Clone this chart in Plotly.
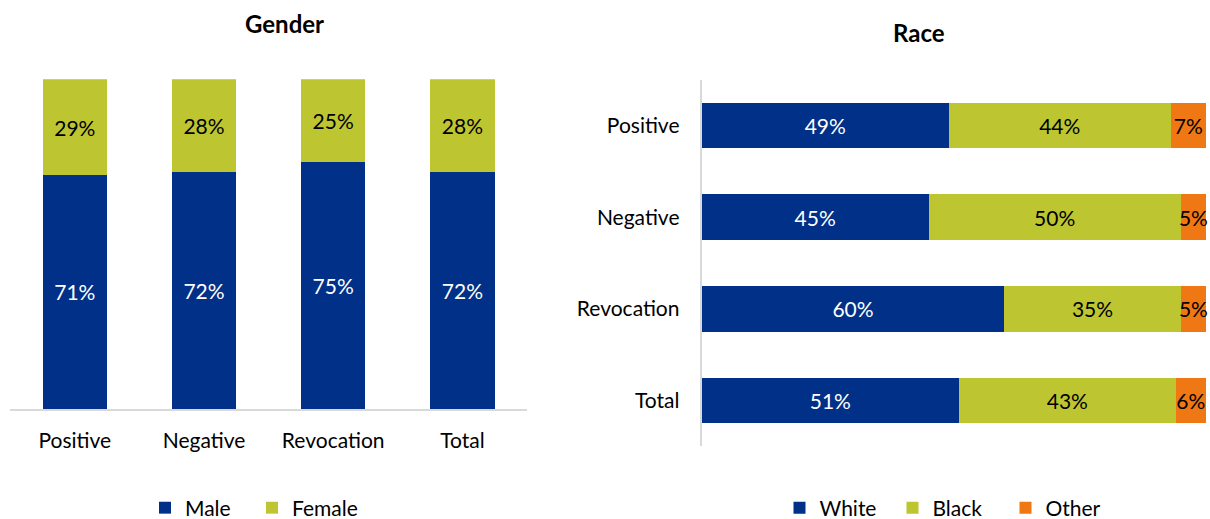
import plotly.graph_objects as go

W, H = 1210, 519

# ---- Data ----
gender_categories = ["Positive", "Negative", "Revocation", "Total"]
male_pct = [71, 72, 75, 72]
female_pct = [29, 28, 25, 28]

race_categories = ["Positive", "Negative", "Revocation", "Total"]
white_pct = [49, 45, 60, 51]
black_pct = [44, 50, 35, 43]
other_pct = [7, 5, 5, 6]

NAVY = "#003087"
LIME = "#BDC531"
ORANGE = "#F07814"
AXIS_GREY = "#D9D9D9"
FONT = "Lato"
FS = 21

def px_x(p):
    return p / W

def px_y(p):
    return 1 - p / H

fig = go.Figure()

def pct_text(vals):
    return [f"{v}%" for v in vals]

# ---- Gender (vertical stacked) ----
fig.add_trace(go.Bar(
    x=gender_categories, y=male_pct, name="Male", marker_color=NAVY,
    text=pct_text(male_pct), textposition="inside", insidetextanchor="middle",
    textangle=0, textfont=dict(color="white", size=FS, family=FONT), constraintext="none",
    xaxis="x", yaxis="y", legend="legend", marker_line_width=0,
))
fig.add_trace(go.Bar(
    x=gender_categories, y=female_pct, name="Female", marker_color=LIME,
    text=pct_text(female_pct), textposition="inside", insidetextanchor="middle",
    textangle=0, textfont=dict(color="black", size=FS, family=FONT), constraintext="none",
    xaxis="x", yaxis="y", legend="legend", marker_line_width=0,
))

# ---- Race (horizontal stacked) ----
for vals, name, col, tcol in [
    (white_pct, "White", NAVY, "white"),
    (black_pct, "Black", LIME, "black"),
    (other_pct, "Other", ORANGE, "black"),
]:
    fig.add_trace(go.Bar(
        y=race_categories, x=vals, name=name, orientation="h", marker_color=col,
        text=pct_text(vals), textposition="inside", insidetextanchor="middle",
        textangle=0, textfont=dict(color=tcol, size=FS, family=FONT), constraintext="none",
        xaxis="x2", yaxis="y2", legend="legend2", marker_line_width=0,
        cliponaxis=False,
    ))

fig.update_layout(
    width=W, height=H, autosize=False,
    margin=dict(l=0, r=0, t=0, b=0, autoexpand=False),
    paper_bgcolor="white", plot_bgcolor="white",
    barmode="stack", bargap=0.5,
    font=dict(family=FONT, size=FS, color="black"),
    xaxis=dict(domain=[px_x(10.2), px_x(527)], anchor="y",
               showgrid=False, zeroline=False, showline=True,
               linecolor=AXIS_GREY, linewidth=2, ticks="", automargin=False,
               ticklabelstandoff=12, tickfont=dict(size=FS)),
    yaxis=dict(domain=[px_y(409), px_y(79.3)], anchor="x", range=[0, 100],
               visible=False, showgrid=False, zeroline=False),
    xaxis2=dict(domain=[px_x(701.7), px_x(1206)], anchor="y2", range=[0, 100],
                visible=False, showgrid=False, zeroline=False),
    yaxis2=dict(domain=[px_y(446.3), px_y(79.7)], anchor="x2",
                autorange="reversed", showgrid=False, zeroline=False,
                showline=True, linecolor=AXIS_GREY, linewidth=2, ticks="",
                automargin=False,
                ticklabelstandoff=16, tickfont=dict(size=FS)),
    legend=dict(orientation="h", xanchor="center", yanchor="middle",
                xref="container", yref="container",
                x=px_x(252), y=px_y(508), font=dict(size=FS),
                entrywidth=62, entrywidthmode="pixels",
                bgcolor="rgba(0,0,0,0)", traceorder="normal"),
    legend2=dict(orientation="h", xanchor="center", yanchor="middle",
                 xref="container", yref="container",
                 x=px_x(949), y=px_y(508), font=dict(size=FS),
                 entrywidth=68, entrywidthmode="pixels",
                 bgcolor="rgba(0,0,0,0)", traceorder="normal"),
    annotations=[
        dict(text="<b>Gender</b>", x=px_x(284), y=px_y(24), xref="paper", yref="paper",
             xanchor="center", yanchor="middle", showarrow=False,
             font=dict(size=24, family=FONT, color="black")),
        dict(text="<b>Race</b>", x=px_x(919), y=px_y(32), xref="paper", yref="paper",
             xanchor="center", yanchor="middle", showarrow=False,
             font=dict(size=24, family=FONT, color="black")),
    ],
    showlegend=True,
)

fig.write_html(
    "out.html",
    config={"responsive": False, "displayModeBar": False},
    post_script="document.body.style.margin='0';",
)
